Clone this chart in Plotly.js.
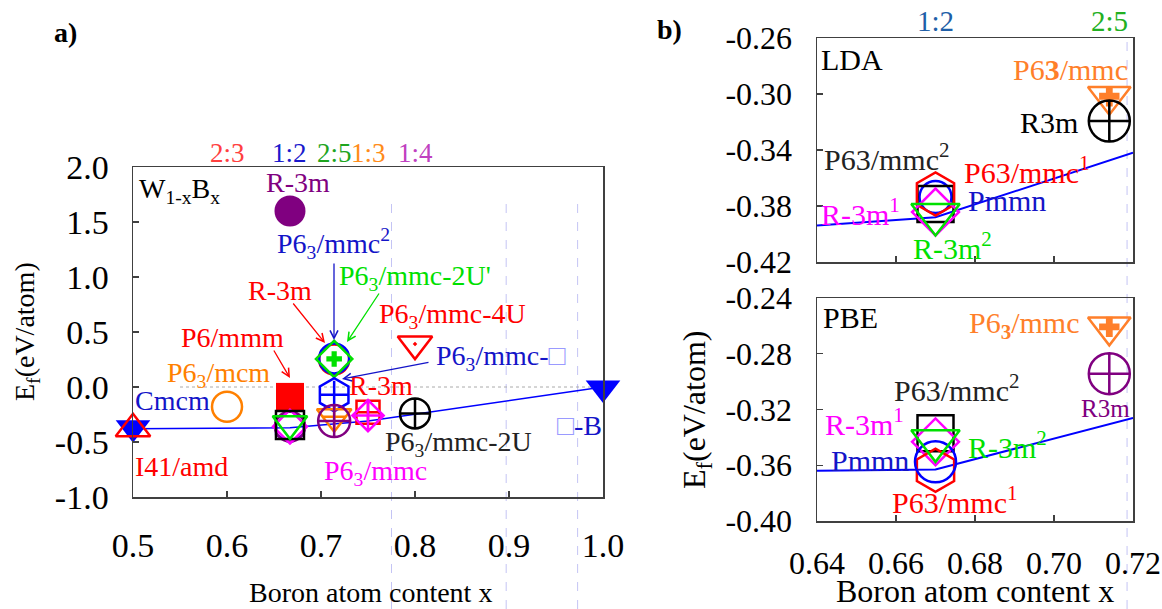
<!DOCTYPE html>
<html><head><meta charset="utf-8">
<script src="https://cdn.plot.ly/plotly-3.0.1.min.js"></script>
<style>
html,body{margin:0;padding:0;background:#fff;font-family:"Liberation Serif";}
#chart{width:1162px;height:609px;}
</style>
</head><body><div id="chart"></div>
<script>
const W = 1162, H = 609;
const FONT = 'Liberation Serif';

// ---------- Panel a data ----------
const aXTickVals = [0.5, 0.6, 0.7, 0.8, 0.9, 1.0];
const aXTickText = ['0.5', '0.6', '0.7', '0.8', '0.9', '1.0'];
const aYTickVals = [-1.0, -0.5, 0.0, 0.5, 1.0, 1.5, 2.0];
const aYTickText = ['-1.0', '-0.5', '0.0', '0.5', '1.0', '1.5', '2.0'];
const ratioLabels = ['2:3', '1:2', '2:5', '1:3', '1:4'];
const ratioX = [0.6, 0.667, 0.714, 0.75, 0.8];
const hullAX = [0.5, 0.667, 0.75, 1.0];
const hullAY = [-0.38, -0.37, -0.31, 0.0];
const aGuideX = [0.775, 0.897, 0.973];
// structures (W1-xBx)
const aX = [0.5, 0.5, 0.6, 0.667, 0.667, 0.667, 0.667, 0.667, 0.667, 0.714, 0.714, 0.714, 0.714, 0.714, 0.714, 0.75, 0.75, 0.8, 0.8, 0.667, 1.0];
const aY = [-0.37, -0.38, -0.18, -0.09, -0.36, -0.36, -0.36, -0.345, -0.335, 0.25, 0.26, 0.255, -0.07, -0.27, -0.31, -0.23, -0.26, -0.24, 0.39, 1.60, -0.01];

// ---------- Panel b data ----------
const bXTickVals = [0.64, 0.66, 0.68, 0.70, 0.72];
const bXTickText = ['0.64', '0.66', '0.68', '0.70', '0.72'];
const ldaYTickVals = [-0.42, -0.38, -0.34, -0.30, -0.26];
const ldaYTickText = ['-0.42', '-0.38', '-0.34', '-0.30', '-0.26'];
const pbeYTickVals = [-0.40, -0.36, -0.32, -0.28, -0.24];
const pbeYTickText = ['-0.40', '-0.36', '-0.32', '-0.28', '-0.24'];
const bRatioLabels = ['1:2', '2:5'];
const bRatioX = [0.67, 0.714];
const bGuideX = [0.7185];
const hullBX = [0.64, 0.67, 0.72];
const hullLdaY = [-0.394, -0.388, -0.342];
const hullPbeY = [-0.364, -0.363, -0.326];
// order: Pmmn, P63/mmc2, P63/mmc1, R-3m1, R-3m2, P63/mmc (2:5), R3m (2:5)
const bX = [0.67, 0.67, 0.67, 0.67, 0.67, 0.714, 0.714];
const ldaY = [-0.3736, -0.3786, -0.3714, -0.3843, -0.386, -0.3016, -0.3193];
const pbeY = [-0.3575, -0.337, -0.3636, -0.3432, -0.3425, -0.2607, -0.2943];

// ---------- styles ----------
const RED = '#ff0000', BLUE = '#0000ff', DBLUE = '#1414c8', GREEN = '#00e000', ORANGE = '#ff8000',
      MAG = '#ff00ff', PURPLE = '#800080', BLACK = '#000000', BORANGE = '#ff7f2a';
const aStyle = [
  {sym: 'triangle-down', c: BLUE, s: 30, fill: true},
  {sym: 'triangle-up-open', c: RED, s: 30},
  {sym: 'circle-open', c: ORANGE, s: 30},
  {sym: 'square', c: RED, s: 28, fill: true},
  {sym: 'hexagon-open', c: BLUE, s: 32},
  {sym: 'circle-open', c: PURPLE, s: 30},
  {sym: 'diamond-open', c: MAG, s: 26},
  {sym: 'square-open', c: BLACK, s: 28},
  {sym: 'triangle-down-open', c: GREEN, s: 30},
  {sym: 'circle-open', c: RED, s: 30},
  {sym: 'circle-open', c: BLUE, s: 30},
  {sym: 'diamond-open', c: GREEN, s: 28, plus: {sym: 'cross', s: 13}},
  {sym: 'hexagon-open', c: BLUE, s: 33, plus: {sym: 'cross-thin-open', s: 20}},
  {sym: 'triangle-down-open', c: ORANGE, s: 30, plus: {sym: 'cross-thin-open', s: 16}},
  {sym: 'circle-cross-open', c: PURPLE, s: 32},
  {sym: 'square-cross-open', c: RED, s: 23},
  {sym: 'diamond-cross-open', c: MAG, s: 24},
  {sym: 'circle-cross-open', c: BLACK, s: 30},
  {sym: 'triangle-down-open-dot', c: RED, s: 30},
  {sym: 'circle', c: PURPLE, s: 31, fill: true},
  {sym: 'triangle-down', c: BLUE, s: 30, fill: true}
];
const ldaStyle = [
  {sym: 'circle-open', c: BLUE, s: 32},
  {sym: 'square-open', c: BLACK, s: 36},
  {sym: 'hexagon-open', c: RED, s: 43},
  {sym: 'diamond-open', c: MAG, s: 36},
  {sym: 'triangle-down-open', c: GREEN, s: 42},
  {sym: 'triangle-down-open', c: BORANGE, s: 37, plus: {sym: 'cross', s: 17}},
  {sym: 'circle-cross-open', c: BLACK, s: 41}
];
const pbeStyle = [
  {sym: 'circle-open', c: BLUE, s: 41},
  {sym: 'square-open', c: BLACK, s: 36},
  {sym: 'hexagon-open', c: RED, s: 43},
  {sym: 'diamond-open', c: MAG, s: 36},
  {sym: 'triangle-down-open', c: GREEN, s: 42},
  {sym: 'triangle-down-open', c: BORANGE, s: 37, plus: {sym: 'cross', s: 17}},
  {sym: 'circle-cross-open', c: PURPLE, s: 41}
];
const pbeOrder = [1, 3, 2, 0, 4, 5, 6];
const ldaOrder = [0, 1, 2, 3, 4, 5, 6];

// ---------- text labels ----------
const SQ = '<span style="color:#9a9aff">□</span>';
const aLabelText = ['W<sub>1-x</sub>B<sub>x</sub>', 'R-3m', 'P6<sub>3</sub>/mmc<sup>2</sup>', 'R-3m', "P6<sub>3</sub>/mmc-2U'",
  'P6<sub>3</sub>/mmc-4U', 'P6/mmm', 'P6<sub>3</sub>/mmc-' + SQ, 'P6<sub>3</sub>/mcm', 'Cmcm', 'R-3m', 'I41/amd',
  'P6<sub>3</sub>/mmc', 'P6<sub>3</sub>/mmc-2U', SQ + '-B'];
const aLabelPos = [[179,190],[298,182],[333,243],[280,290],[415,277],[452,315],[232,337],[500,358],[218,374],
  [172,400],[381,385],[181,467],[375,472],[458,443],[579,425]];
const aLabelColor = [BLACK, PURPLE, DBLUE, RED, GREEN, RED, RED, DBLUE, ORANGE, DBLUE, RED, RED, MAG, '#222', DBLUE];
const ldaLabelText = ['LDA', 'P6<b>3</b>/mmc', 'R3m', 'P63/mmc<sup>2</sup>', 'P63/mmc<sup>1</sup>', 'Pmmn', 'R-3m<sup>1</sup>', 'R-3m<sup>2</sup>'];
const ldaLabelPos = [[852,60],[1070,70],[1049,123],[887,157],[1027,170],[1007,200],[860,212],[952,246]];
const ldaLabelColor = [BLACK, BORANGE, BLACK, '#222', RED, DBLUE, MAG, GREEN];
const pbeLabelText = ['PBE', 'P6<sub><b>3</b></sub>/mmc', 'R3m', 'P63/mmc<sup>2</sup>', 'R-3m<sup>1</sup>', 'R-3m<sup>2</sup>', 'Pmmn', 'P63/mmc<sup>1</sup>'];
const pbeLabelPos = [[850,317],[1024,325],[1105,408],[957,388],[864,422],[1007,445],[870,460],[955,500]];
const pbeLabelColor = [BLACK, BORANGE, PURPLE, '#222', MAG, GREEN, DBLUE, RED];
// arrows in panel a: [headX, headY, tailX, tailY] px
const aArrows = [[325,343,292,302],[334,340,334,262],[347,342,380,292],[342,379,430,362],[290,378,273,349]];
const aArrowColor = [RED, DBLUE, GREEN, DBLUE, RED];

// ---------- geometry (pixels) ----------
const A = {l:133, r:603, t:167, b:497};
const BX = {l:817, r:1133};
const LDA = {t:38, b:262}, PBE = {t:298, b:521};
const px2 = (x) => x / W, py2 = (y) => 1 - y / H;

const traces = [];
function addMarker(xa, ya, xv, yv, st) {
  traces.push({type:'scatter', mode:'markers', x:[xv], y:[yv], xaxis:xa, yaxis:ya, hoverinfo:'skip', showlegend:false,
    cliponaxis:false,
    marker:{symbol:st.sym, size:st.s, color: st.c, opacity:1,
      line:{color:st.c, width: st.fill ? 0 : (st.lw || 2.5)}}});
  if (st.plus) {
    traces.push({type:'scatter', mode:'markers', x:[xv], y:[yv], xaxis:xa, yaxis:ya, hoverinfo:'skip', showlegend:false,
      cliponaxis:false,
      marker:{symbol:st.plus.sym, size:st.plus.s, color: st.c, line:{color:st.c, width: st.plus.sym === 'cross' ? 0 : 2.5}}});
  }
}
// hulls
traces.push({type:'scatter', mode:'lines', x:hullAX, y:hullAY, xaxis:'x', yaxis:'y', line:{color:BLUE, width:1.5}, hoverinfo:'skip', showlegend:false});
traces.push({type:'scatter', mode:'lines', x:hullBX, y:hullLdaY, xaxis:'x2', yaxis:'y2', line:{color:BLUE, width:2}, hoverinfo:'skip', showlegend:false});
traces.push({type:'scatter', mode:'lines', x:hullBX, y:hullPbeY, xaxis:'x3', yaxis:'y3', line:{color:BLUE, width:2}, hoverinfo:'skip', showlegend:false});
aX.forEach((x, i) => addMarker('x', 'y', x, aY[i], aStyle[i]));
ldaOrder.forEach(i => addMarker('x2', 'y2', bX[i], ldaY[i], ldaStyle[i]));
pbeOrder.forEach(i => addMarker('x3', 'y3', bX[i], pbeY[i], pbeStyle[i]));

// ---------- annotations ----------
const ann = [];
function lab(text, xp, yp, color, size, extra) {
  ann.push(Object.assign({text:text, x:px2(xp), y:py2(yp), xref:'paper', yref:'paper', showarrow:false,
    xanchor:'center', yanchor:'middle', font:{family:FONT, size:size, color:color}}, extra || {}));
}
aLabelText.forEach((t, i) => lab(t, aLabelPos[i][0], aLabelPos[i][1], aLabelColor[i], 28));
ldaLabelText.forEach((t, i) => lab(t, ldaLabelPos[i][0], ldaLabelPos[i][1], ldaLabelColor[i], 30));
pbeLabelText.forEach((t, i) => lab(t, pbeLabelPos[i][0], pbeLabelPos[i][1], pbeLabelColor[i], t === 'R3m' ? 25 : 30));
const ratioColors = ['#ff4040', '#1a1acc', '#1fa51f', '#ff8c1a', '#c040c0'];
ratioLabels.forEach((t, i) => ann.push({text:t, x:ratioX[i], xref:'x', y:py2(153), yref:'paper', showarrow:false,
  xanchor:'center', yanchor:'middle', font:{family:FONT, size:27, color:ratioColors[i]}}));
const bRatioColors = ['#1f5fa8', '#22b022'];
bRatioLabels.forEach((t, i) => ann.push({text:t, x:bRatioX[i], xref:'x2', y:py2(21), yref:'paper', showarrow:false,
  xanchor:'center', yanchor:'middle', font:{family:FONT, size:29, color:bRatioColors[i]}}));
aArrows.forEach((a, i) => ann.push({text:'', x:px2(a[0]), y:py2(a[1]), xref:'paper', yref:'paper',
  ax:a[2]-a[0], ay:a[3]-a[1], axref:'pixel', ayref:'pixel', showarrow:true, arrowhead:5, arrowsize:1.2,
  arrowwidth:1.3, arrowcolor:aArrowColor[i], standoff:0, startstandoff:0}));
lab('<b>a)</b>', 65, 32, BLACK, 28);
lab('<b>b)</b>', 669, 29, BLACK, 28);
lab('E<sub>f</sub>(eV/atom)', 26, 332, BLACK, 28, {textangle:-90});
lab('E<sub>f</sub>(eV/atom)', 696, 410, BLACK, 32, {textangle:-90});
lab('Boron atom content x', 370, 592, BLACK, 28);
lab('Boron atom content x', 975, 591, BLACK, 32);

// ---------- shapes ----------
const shapes = [];
function dataToPaperX(v, r0, r1, l, r) { return (l + (v - r0) / (r1 - r0) * (r - l)) / W; }
aGuideX.forEach(g => { const xp = dataToPaperX(g, 0.5, 1.0, A.l, A.r);
  shapes.push({type:'line', xref:'paper', yref:'paper', x0:xp, x1:xp, y0:0, y1:py2(197), layer:'below',
    line:{color:'#c4c4f4', width:1, dash:'dash'}}); });
bGuideX.forEach(g => { const xp = dataToPaperX(g, 0.64, 0.72, BX.l, BX.r);
  shapes.push({type:'line', xref:'paper', yref:'paper', x0:xp, x1:xp, y0:0, y1:py2(33), layer:'below',
    line:{color:'#c4c4f4', width:1, dash:'dash'}}); });
shapes.push({type:'line', xref:'x', yref:'y', x0:0.55, x1:1.0, y0:0, y1:0, layer:'below',
  line:{color:'#aaaaaa', width:1, dash:'dot'}});

// ---------- axes ----------
function ax(extra) {
  return Object.assign({showline:true, mirror:true, linecolor:'#404040', linewidth:1.5, ticks:'inside', ticklen:6,
    tickwidth:1.2, tickcolor:'#404040', showgrid:false, zeroline:false, tickmode:'array', fixedrange:true,
    tickfont:{family:FONT, size:34, color:BLACK}}, extra);
}
const layout = {
  width:W, height:H, margin:{l:0, r:0, t:0, b:0}, paper_bgcolor:'#ffffff', plot_bgcolor:'rgba(0,0,0,0)',
  showlegend:false, font:{family:FONT, size:20, color:BLACK},
  xaxis: ax({domain:[A.l/W, A.r/W], range:[0.5, 1.0], anchor:'y', tickvals:aXTickVals, ticktext:aXTickText, ticklabelstandoff:18}),
  yaxis: ax({domain:[py2(A.b), py2(A.t)], range:[-1.0, 2.0], anchor:'x', tickvals:aYTickVals, ticktext:aYTickText, ticklabelstandoff:16}),
  xaxis2: ax({domain:[BX.l/W, BX.r/W], range:[0.64, 0.72], anchor:'y2', tickvals:bXTickVals, ticktext:bXTickText, showticklabels:false}),
  yaxis2: ax({domain:[py2(LDA.b), py2(LDA.t)], range:[-0.42, -0.26], anchor:'x2', tickvals:ldaYTickVals, ticktext:ldaYTickText, ticklabelstandoff:17, tickfont:{family:FONT, size:32, color:BLACK}}),
  xaxis3: ax({domain:[BX.l/W, BX.r/W], range:[0.64, 0.72], anchor:'y3', tickvals:bXTickVals, ticktext:bXTickText, ticklabelstandoff:13, tickfont:{family:FONT, size:32, color:BLACK}}),
  yaxis3: ax({domain:[py2(PBE.b), py2(PBE.t)], range:[-0.40, -0.24], anchor:'x3', tickvals:pbeYTickVals, ticktext:pbeYTickText, ticklabelstandoff:17, tickfont:{family:FONT, size:32, color:BLACK}}),
  annotations: ann, shapes: shapes
};
Plotly.newPlot('chart', traces, layout, {staticPlot:true, displayModeBar:false});
</script></body></html>
